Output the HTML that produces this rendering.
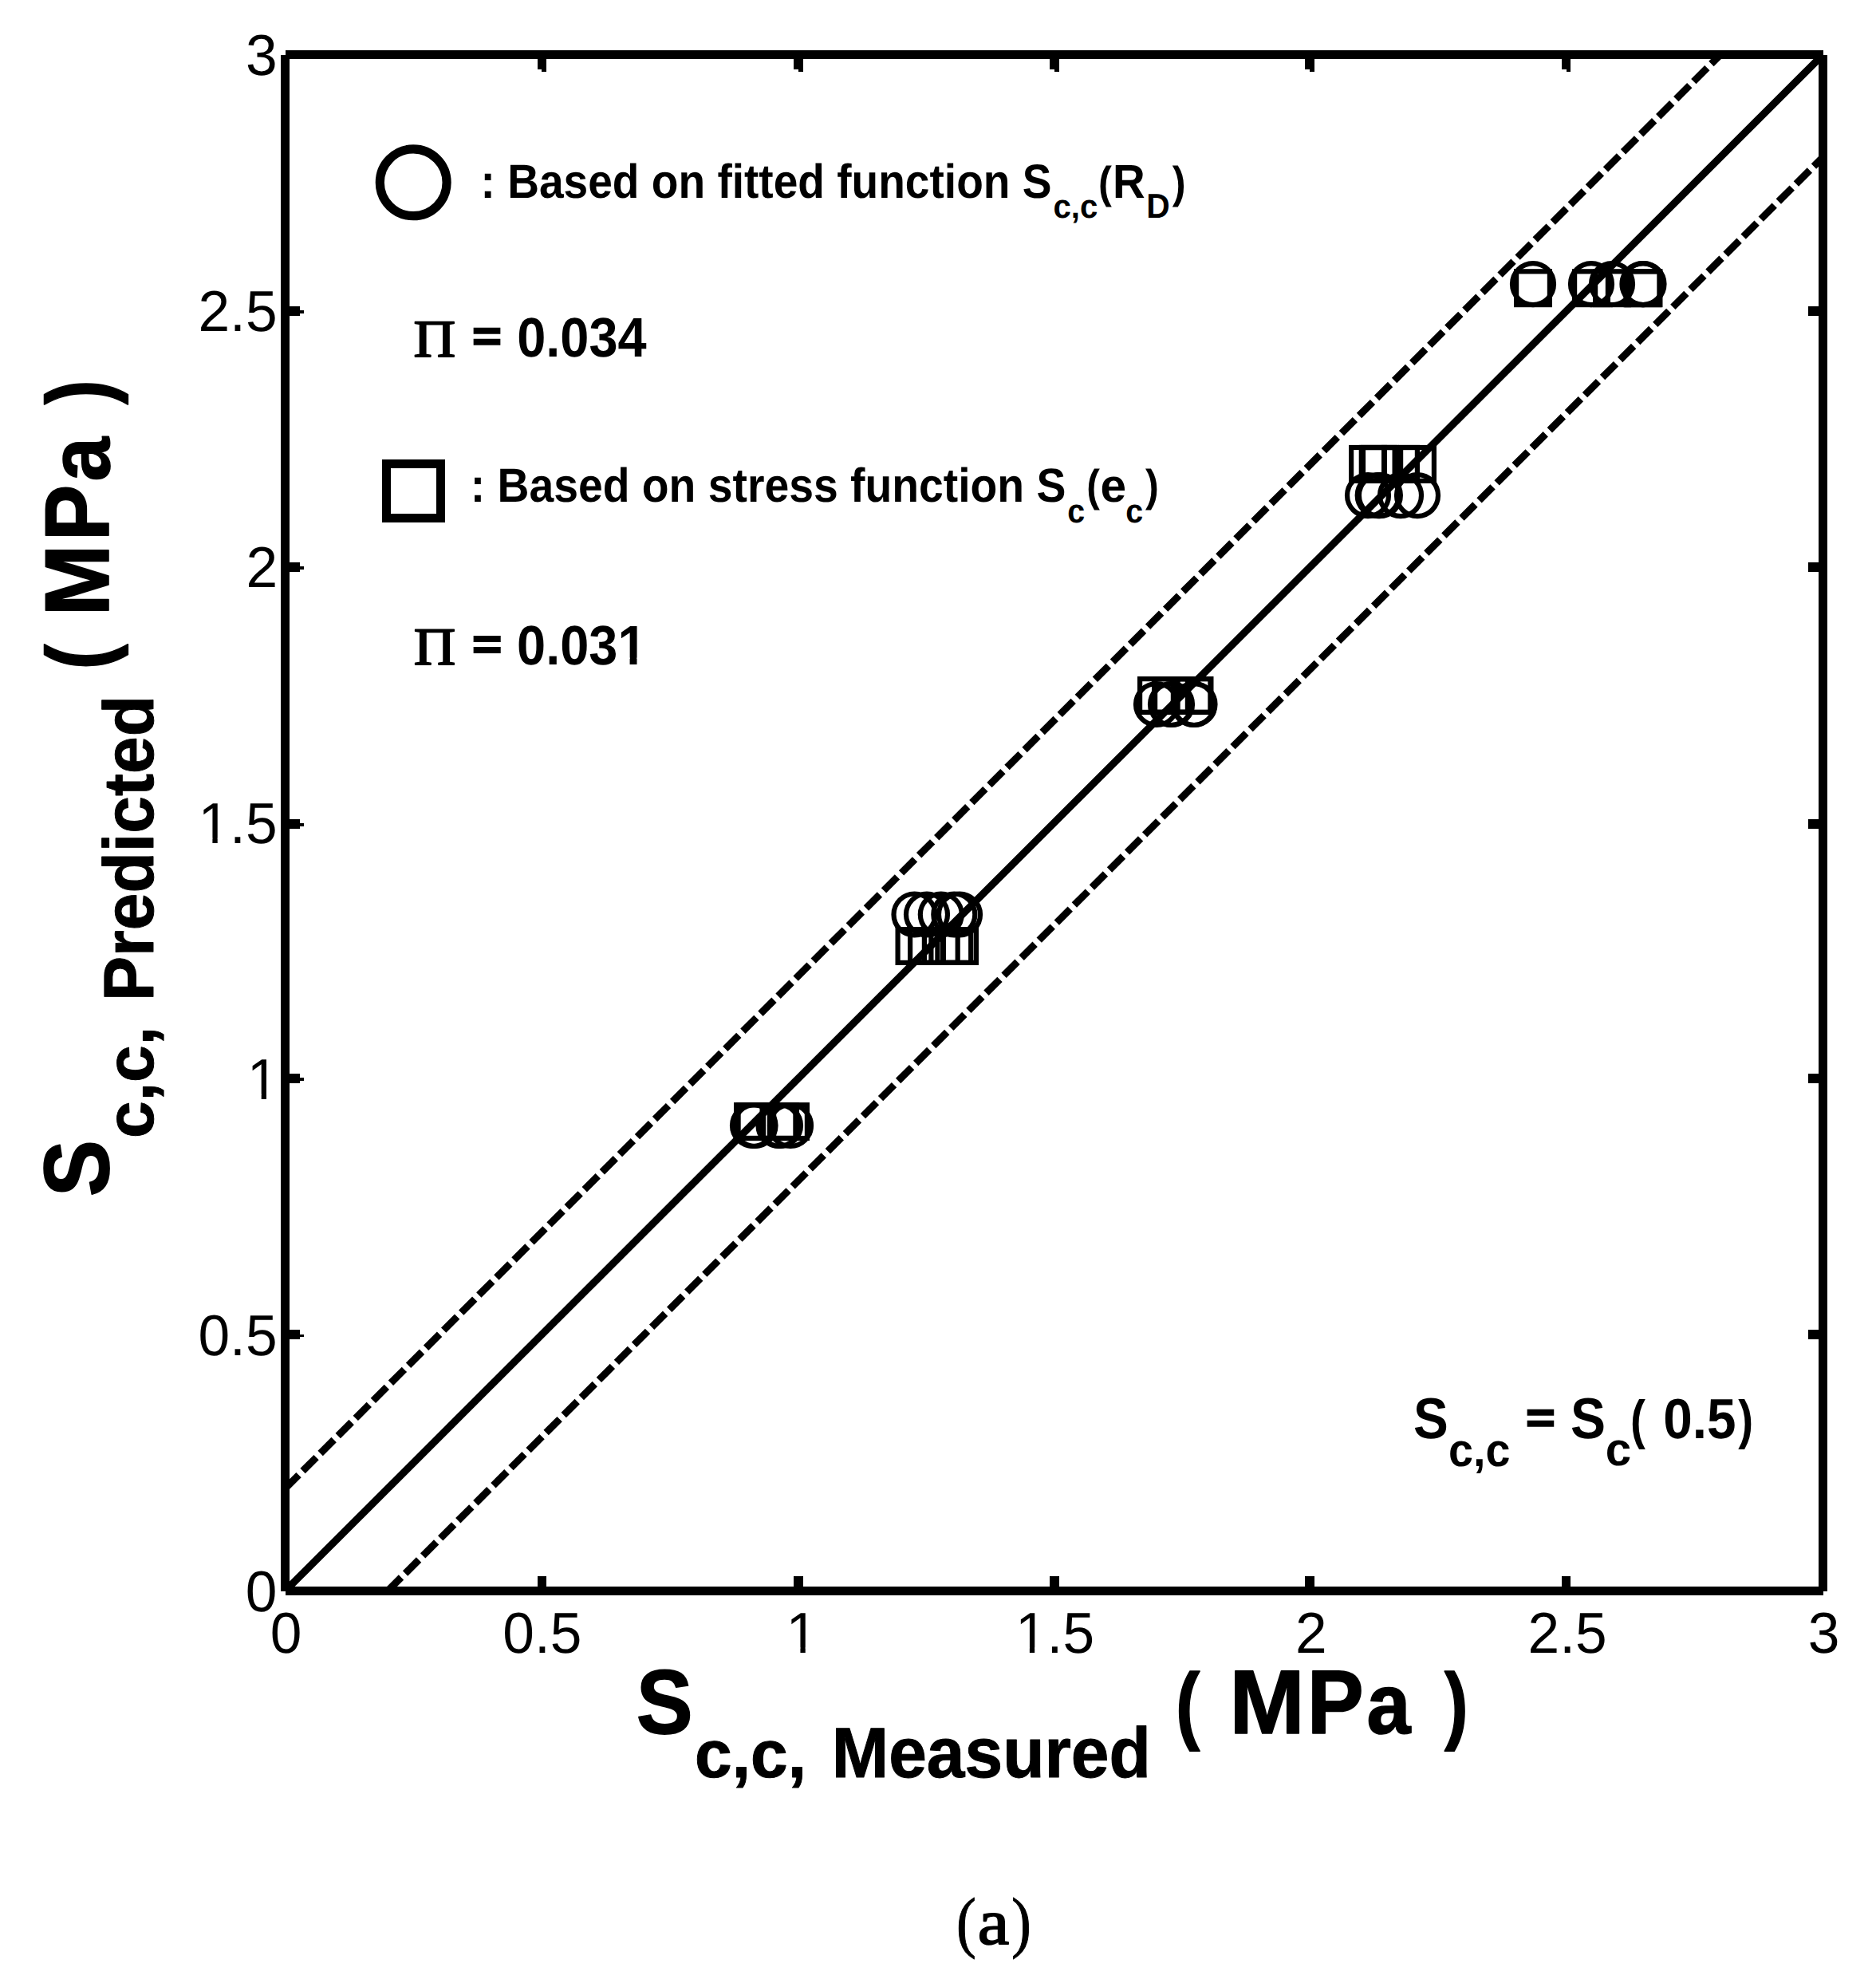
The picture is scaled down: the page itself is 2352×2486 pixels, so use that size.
<!DOCTYPE html>
<html lang="en"><head><meta charset="utf-8"><title>Predicted vs measured S c,c (a)</title>
<style>
html,body{margin:0;padding:0;background:#fff;}
body{width:2352px;height:2486px;overflow:hidden;}
svg{display:block;}
text{font-family:"Liberation Sans",sans-serif;fill:#000;font-kerning:none;text-rendering:geometricPrecision;white-space:pre;}
.b{font-weight:bold;}
.ser{font-family:"Liberation Serif",serif;font-weight:normal;}
.mk{fill:none;stroke:#000;stroke-width:6.2;}
.w{fill:#fff;}
</style></head><body>
<svg width="2352" height="2486" viewBox="0 0 2352 2486">
<rect x="0" y="0" width="2352" height="2486" fill="#fff"/>
<defs><clipPath id="pc"><rect x="357.5" y="68.5" width="1928.0" height="1926.0"/></clipPath></defs>
<g clip-path="url(#pc)" fill="none" stroke="#000">
<line x1="357.5" y1="1994.5" x2="2285.5" y2="68.5" stroke-width="9.2"/>
<line x1="357.5" y1="1866.1" x2="2157.0" y2="68.5" stroke-width="9.0" stroke-dasharray="24 7.2"/>
<line x1="486.0" y1="1994.5" x2="2285.5" y2="196.9" stroke-width="9.0" stroke-dasharray="24 7.2"/>
</g>
<g class="mk">
<rect x="923.1" y="1385.2" width="41.8" height="41.8"/>
<rect x="925.6" y="1385.2" width="41.8" height="41.8"/>
<rect x="955.6" y="1385.2" width="41.8" height="41.8"/>
<rect x="957.1" y="1385.2" width="41.8" height="41.8"/>
<rect x="970.1" y="1385.2" width="41.8" height="41.8"/>
<circle cx="944.0" cy="1411.0" r="26.0"/>
<circle cx="946.5" cy="1411.0" r="26.0"/>
<circle cx="976.5" cy="1411.0" r="26.0"/>
<circle cx="978.0" cy="1411.0" r="26.0"/>
<circle cx="991.0" cy="1411.0" r="26.0"/>
<rect x="1125.6" y="1165.1" width="41.8" height="41.8"/>
<rect x="1141.1" y="1165.1" width="41.8" height="41.8"/>
<rect x="1158.9" y="1165.1" width="41.8" height="41.8"/>
<rect x="1175.4" y="1165.1" width="41.8" height="41.8"/>
<rect x="1182.1" y="1165.1" width="41.8" height="41.8"/>
<circle cx="1146.5" cy="1146.5" r="26.0"/>
<circle cx="1162.0" cy="1146.5" r="26.0"/>
<circle cx="1179.8" cy="1146.5" r="26.0"/>
<circle cx="1196.3" cy="1146.5" r="26.0"/>
<circle cx="1203.0" cy="1146.5" r="26.0"/>
<rect x="1429.1" y="851.1" width="41.8" height="41.8"/>
<rect x="1447.1" y="851.1" width="41.8" height="41.8"/>
<rect x="1448.1" y="851.1" width="41.8" height="41.8"/>
<rect x="1475.6" y="851.1" width="41.8" height="41.8"/>
<rect x="1476.6" y="851.1" width="41.8" height="41.8"/>
<circle cx="1450.0" cy="883.0" r="26.0"/>
<circle cx="1468.0" cy="883.0" r="26.0"/>
<circle cx="1469.0" cy="883.0" r="26.0"/>
<circle cx="1496.5" cy="883.0" r="26.0"/>
<circle cx="1497.5" cy="883.0" r="26.0"/>
<rect x="1694.1" y="561.0" width="41.8" height="41.8"/>
<rect x="1706.8" y="561.0" width="41.8" height="41.8"/>
<rect x="1709.0" y="561.0" width="41.8" height="41.8"/>
<rect x="1735.1" y="561.0" width="41.8" height="41.8"/>
<rect x="1756.1" y="561.0" width="41.8" height="41.8"/>
<circle cx="1715.0" cy="621.1" r="26.0"/>
<circle cx="1727.7" cy="621.1" r="26.0"/>
<circle cx="1729.9" cy="621.1" r="26.0"/>
<circle cx="1756.0" cy="621.1" r="26.0"/>
<circle cx="1777.0" cy="621.1" r="26.0"/>
<rect x="1901.1" y="340.3" width="41.8" height="41.8"/>
<rect x="1974.1" y="340.3" width="41.8" height="41.8"/>
<rect x="2000.1" y="340.3" width="41.8" height="41.8"/>
<rect x="2038.6" y="340.3" width="41.8" height="41.8"/>
<rect x="2039.6" y="340.3" width="41.8" height="41.8"/>
<circle cx="1922.0" cy="356.1" r="26.0"/>
<circle cx="1995.0" cy="356.1" r="26.0"/>
<circle cx="2021.0" cy="356.1" r="26.0"/>
<circle cx="2059.5" cy="356.1" r="26.0"/>
<circle cx="2060.5" cy="356.1" r="26.0"/>
</g>
<text class="n" x="338.67" y="2072.20" font-size="72.37" textLength="39.65" lengthAdjust="spacingAndGlyphs">0</text>
<text class="n" x="630.27" y="2072.20" font-size="72.37" textLength="99.12" lengthAdjust="spacingAndGlyphs">0.5</text>
<text class="n" x="985.50" y="2072.20" font-size="72.37" textLength="39.65" lengthAdjust="spacingAndGlyphs">1</text>
<rect class="w" x="989.43" y="2065.49" width="14.00" height="8.41"/>
<rect class="w" x="1009.73" y="2065.49" width="13.44" height="8.41"/>
<text class="n" x="1272.94" y="2072.20" font-size="72.37" textLength="99.12" lengthAdjust="spacingAndGlyphs">1.5</text>
<rect class="w" x="1276.87" y="2065.49" width="14.00" height="8.41"/>
<rect class="w" x="1297.17" y="2065.49" width="13.44" height="8.41"/>
<text class="n" x="1624.01" y="2072.20" font-size="72.37" textLength="39.65" lengthAdjust="spacingAndGlyphs">2</text>
<text class="n" x="1915.61" y="2072.20" font-size="72.37" textLength="99.12" lengthAdjust="spacingAndGlyphs">2.5</text>
<text class="n" x="2266.67" y="2072.20" font-size="72.37" textLength="39.65" lengthAdjust="spacingAndGlyphs">3</text>
<text class="n" x="307.73" y="2020.40" font-size="72.37" textLength="39.65" lengthAdjust="spacingAndGlyphs">0</text>
<text class="n" x="248.48" y="1699.40" font-size="72.37" textLength="99.12" lengthAdjust="spacingAndGlyphs">0.5</text>
<text class="n" x="309.77" y="1378.40" font-size="72.37" textLength="39.65" lengthAdjust="spacingAndGlyphs">1</text>
<rect class="w" x="313.70" y="1371.69" width="14.00" height="8.41"/>
<rect class="w" x="334.00" y="1371.69" width="13.44" height="8.41"/>
<text class="n" x="248.48" y="1057.40" font-size="72.37" textLength="99.12" lengthAdjust="spacingAndGlyphs">1.5</text>
<rect class="w" x="252.41" y="1050.69" width="14.00" height="8.41"/>
<rect class="w" x="272.71" y="1050.69" width="13.44" height="8.41"/>
<text class="n" x="308.53" y="736.40" font-size="72.37" textLength="39.65" lengthAdjust="spacingAndGlyphs">2</text>
<text class="n" x="248.48" y="415.40" font-size="72.37" textLength="99.12" lengthAdjust="spacingAndGlyphs">2.5</text>
<text class="n" x="308.08" y="94.40" font-size="72.37" textLength="39.65" lengthAdjust="spacingAndGlyphs">3</text>
<g fill="#000" shape-rendering="crispEdges">
<path d="M357.5 68.5H2285.5M357.5 1994.5H2285.5M357.5 68.5V1994.5M2285.5 68.5V1994.5" fill="none" stroke="#000" stroke-width="10.9" stroke-linecap="butt"/>
<rect x="673.5" y="1976.0" width="11.8" height="18.5"/>
<rect x="673.5" y="68.5" width="11.8" height="18.5"/>
<rect x="679.4" y="87.0" width="5.9" height="3.0"/>
<rect x="357.5" y="1667.4" width="18.5" height="12.0"/>
<rect x="376.0" y="1672.5" width="5.0" height="3.8"/>
<rect x="2267.0" y="1667.4" width="18.5" height="12.0"/>
<rect x="995.1" y="1976.0" width="11.8" height="18.5"/>
<rect x="995.1" y="68.5" width="11.8" height="18.5"/>
<rect x="1001.0" y="87.0" width="5.9" height="3.0"/>
<rect x="357.5" y="1346.0" width="18.5" height="12.0"/>
<rect x="376.0" y="1351.1" width="5.0" height="3.8"/>
<rect x="2267.0" y="1346.0" width="18.5" height="12.0"/>
<rect x="1316.4" y="1976.0" width="11.8" height="18.5"/>
<rect x="1316.4" y="68.5" width="11.8" height="18.5"/>
<rect x="1322.3" y="87.0" width="5.9" height="3.0"/>
<rect x="357.5" y="1027.0" width="18.5" height="12.0"/>
<rect x="376.0" y="1032.1" width="5.0" height="3.8"/>
<rect x="2267.0" y="1027.0" width="18.5" height="12.0"/>
<rect x="1636.0" y="1976.0" width="11.8" height="18.5"/>
<rect x="1636.0" y="68.5" width="11.8" height="18.5"/>
<rect x="1641.9" y="87.0" width="5.9" height="3.0"/>
<rect x="357.5" y="705.1" width="18.5" height="12.0"/>
<rect x="376.0" y="710.2" width="5.0" height="3.8"/>
<rect x="2267.0" y="705.1" width="18.5" height="12.0"/>
<rect x="1957.6" y="1976.0" width="11.8" height="18.5"/>
<rect x="1957.6" y="68.5" width="11.8" height="18.5"/>
<rect x="1963.5" y="87.0" width="5.9" height="3.0"/>
<rect x="357.5" y="383.9" width="18.5" height="12.0"/>
<rect x="376.0" y="389.0" width="5.0" height="3.8"/>
<rect x="2267.0" y="383.9" width="18.5" height="12.0"/>
</g>
<text><tspan class="b" x="797.64" y="2173.09" font-size="113.98" textLength="70.92" lengthAdjust="spacingAndGlyphs" stroke="#000" stroke-width="1.60" stroke-linejoin="round">S</tspan><tspan class="b" x="871.12" y="2227.88" font-size="84.15" textLength="139.99" lengthAdjust="spacingAndGlyphs" stroke="#000" stroke-width="1.00" stroke-linejoin="round">c,c,</tspan> <tspan class="b" x="1042.77" y="2227.70" font-size="89.10" textLength="400.08" lengthAdjust="spacingAndGlyphs" stroke="#000" stroke-width="1.00" stroke-linejoin="round">Measured</tspan> <tspan class="b" x="1474.06" y="2172.59" font-size="107.50" textLength="30.32" lengthAdjust="spacingAndGlyphs" stroke="#000" stroke-width="1.60" stroke-linejoin="round">(</tspan> <tspan class="b" x="1541.20" y="2173.00" font-size="113.81" textLength="94.59" lengthAdjust="spacingAndGlyphs" stroke="#000" stroke-width="1.60" stroke-linejoin="round">M</tspan><tspan class="b" x="1638.78" y="2173.00" font-size="113.81" textLength="70.95" lengthAdjust="spacingAndGlyphs" stroke="#000" stroke-width="1.60" stroke-linejoin="round">P</tspan><tspan class="b" x="1713.40" y="2173.06" font-size="106.78" textLength="54.97" lengthAdjust="spacingAndGlyphs" stroke="#000" stroke-width="1.60" stroke-linejoin="round">a</tspan> <tspan class="b" x="1811.01" y="2172.59" font-size="107.50" textLength="29.62" lengthAdjust="spacingAndGlyphs" stroke="#000" stroke-width="1.60" stroke-linejoin="round">)</tspan></text>
<text transform="rotate(-90)"><tspan class="b" x="-1500.28" y="136.47" font-size="115.96" textLength="71.25" lengthAdjust="spacingAndGlyphs" stroke="#000" stroke-width="1.60" stroke-linejoin="round">S</tspan><tspan class="b" x="-1426.98" y="191.67" font-size="84.51" textLength="139.99" lengthAdjust="spacingAndGlyphs" stroke="#000" stroke-width="1.00" stroke-linejoin="round">c,c,</tspan> <tspan class="b" x="-1255.02" y="191.50" font-size="88.81" textLength="383.06" lengthAdjust="spacingAndGlyphs" stroke="#000" stroke-width="1.00" stroke-linejoin="round">Predicted</tspan> <tspan class="b" x="-839.38" y="137.07" font-size="112.43" textLength="31.98" lengthAdjust="spacingAndGlyphs" stroke="#000" stroke-width="1.60" stroke-linejoin="round">(</tspan> <tspan class="b" x="-772.62" y="136.20" font-size="114.25" textLength="89.95" lengthAdjust="spacingAndGlyphs" stroke="#000" stroke-width="1.60" stroke-linejoin="round">M</tspan><tspan class="b" x="-678.18" y="136.20" font-size="114.25" textLength="70.60" lengthAdjust="spacingAndGlyphs" stroke="#000" stroke-width="1.60" stroke-linejoin="round">P</tspan><tspan class="b" x="-603.43" y="136.55" font-size="107.69" textLength="55.59" lengthAdjust="spacingAndGlyphs" stroke="#000" stroke-width="1.60" stroke-linejoin="round">a</tspan> <tspan class="b" x="-507.29" y="137.07" font-size="112.43" textLength="30.91" lengthAdjust="spacingAndGlyphs" stroke="#000" stroke-width="1.60" stroke-linejoin="round">)</tspan></text>
<circle cx="518.2" cy="228.8" r="41.9" fill="none" stroke="#000" stroke-width="11.2"/>
<text><tspan class="b" x="602.60" y="248.20" font-size="60.03" textLength="715.85" lengthAdjust="spacingAndGlyphs">: Based on fitted function S</tspan><tspan class="b" x="1320.43" y="272.59" font-size="41.80" textLength="55.85" lengthAdjust="spacingAndGlyphs">c,c</tspan><tspan class="b" x="1377.08" y="247.52" font-size="55.79" textLength="16.87" lengthAdjust="spacingAndGlyphs">(</tspan><tspan class="b" x="1395.03" y="248.10" font-size="59.59" textLength="40.73" lengthAdjust="spacingAndGlyphs">R</tspan><tspan class="b" x="1437.37" y="272.70" font-size="43.31" textLength="29.44" lengthAdjust="spacingAndGlyphs">D</tspan><tspan class="b" x="1469.75" y="247.52" font-size="55.79" textLength="16.87" lengthAdjust="spacingAndGlyphs">)</tspan></text>
<text><tspan class="ser" x="518.60" y="447.20" font-size="66.13" textLength="52.64" lengthAdjust="spacingAndGlyphs" stroke="#000" stroke-width="1.80" stroke-linejoin="round">Π</tspan> <tspan class="b" x="592.44" y="439.17" font-size="51.86" textLength="35.98" lengthAdjust="spacingAndGlyphs" stroke="#000" stroke-width="2.40" stroke-linejoin="miter">=</tspan> <tspan class="b" x="648.13" y="446.80" font-size="69.77" textLength="162.52" lengthAdjust="spacingAndGlyphs">0.034</tspan></text>
<rect x="484.35" y="581.15" width="68.3" height="68.3" fill="none" stroke="#000" stroke-width="10.7" shape-rendering="crispEdges"/>
<text><tspan class="b" x="589.68" y="629.10" font-size="59.88" textLength="746.68" lengthAdjust="spacingAndGlyphs">: Based on stress function S</tspan><tspan class="b" x="1338.36" y="654.69" font-size="41.80" textLength="21.89" lengthAdjust="spacingAndGlyphs">c</tspan><tspan class="b" x="1362.31" y="628.40" font-size="55.89" textLength="16.64" lengthAdjust="spacingAndGlyphs">(</tspan><tspan class="b" x="1379.51" y="629.43" font-size="58.59" textLength="32.59" lengthAdjust="spacingAndGlyphs">e</tspan><tspan class="b" x="1411.36" y="654.69" font-size="41.80" textLength="21.89" lengthAdjust="spacingAndGlyphs">c</tspan><tspan class="b" x="1435.95" y="628.40" font-size="55.89" textLength="16.87" lengthAdjust="spacingAndGlyphs">)</tspan></text>
<text><tspan class="ser" x="518.80" y="833.20" font-size="66.43" textLength="52.53" lengthAdjust="spacingAndGlyphs" stroke="#000" stroke-width="1.80" stroke-linejoin="round">Π</tspan> <tspan class="b" x="592.42" y="825.19" font-size="51.33" textLength="36.33" lengthAdjust="spacingAndGlyphs" stroke="#000" stroke-width="2.40" stroke-linejoin="miter">=</tspan> <tspan class="b" x="648.03" y="832.90" font-size="69.77" textLength="162.52" lengthAdjust="spacingAndGlyphs">0.031</tspan></text>
<rect class="w" x="777.02" y="824.48" width="12.57" height="10.12"/>
<rect class="w" x="798.50" y="824.48" width="11.74" height="10.12"/>
<text><tspan class="b" x="1771.91" y="1803.39" font-size="72.46" textLength="43.75" lengthAdjust="spacingAndGlyphs">S</tspan><tspan class="b" x="1816.02" y="1837.63" font-size="58.41" textLength="77.41" lengthAdjust="spacingAndGlyphs">c,c</tspan> <tspan class="b" x="1913.45" y="1795.07" font-size="51.86" textLength="35.87" lengthAdjust="spacingAndGlyphs" stroke="#000" stroke-width="2.40" stroke-linejoin="miter">=</tspan> <tspan class="b" x="1969.00" y="1803.49" font-size="72.46" textLength="43.97" lengthAdjust="spacingAndGlyphs">S</tspan><tspan class="b" x="2012.63" y="1837.43" font-size="58.41" textLength="32.38" lengthAdjust="spacingAndGlyphs">c</tspan><tspan class="b" x="2044.08" y="1802.83" font-size="67.80" textLength="18.88" lengthAdjust="spacingAndGlyphs">(</tspan> <tspan class="b" x="2085.30" y="1803.31" font-size="71.04" textLength="91.33" lengthAdjust="spacingAndGlyphs">0.5</tspan><tspan class="b" x="2179.14" y="1802.83" font-size="67.80" textLength="18.88" lengthAdjust="spacingAndGlyphs">)</tspan></text>
<text><tspan class="ser" x="1199.03" y="2438.40" font-size="85.03" textLength="24.76" lengthAdjust="spacingAndGlyphs" stroke="#000" stroke-width="1.00" stroke-linejoin="round">(</tspan><tspan class="ser" x="1225.77" y="2437.20" font-size="81.42" textLength="39.55" lengthAdjust="spacingAndGlyphs" stroke="#000" stroke-width="1.80" stroke-linejoin="round">a</tspan><tspan class="ser" x="1267.99" y="2438.40" font-size="85.03" textLength="24.89" lengthAdjust="spacingAndGlyphs" stroke="#000" stroke-width="1.00" stroke-linejoin="round">)</tspan></text>
</svg>
</body></html>
